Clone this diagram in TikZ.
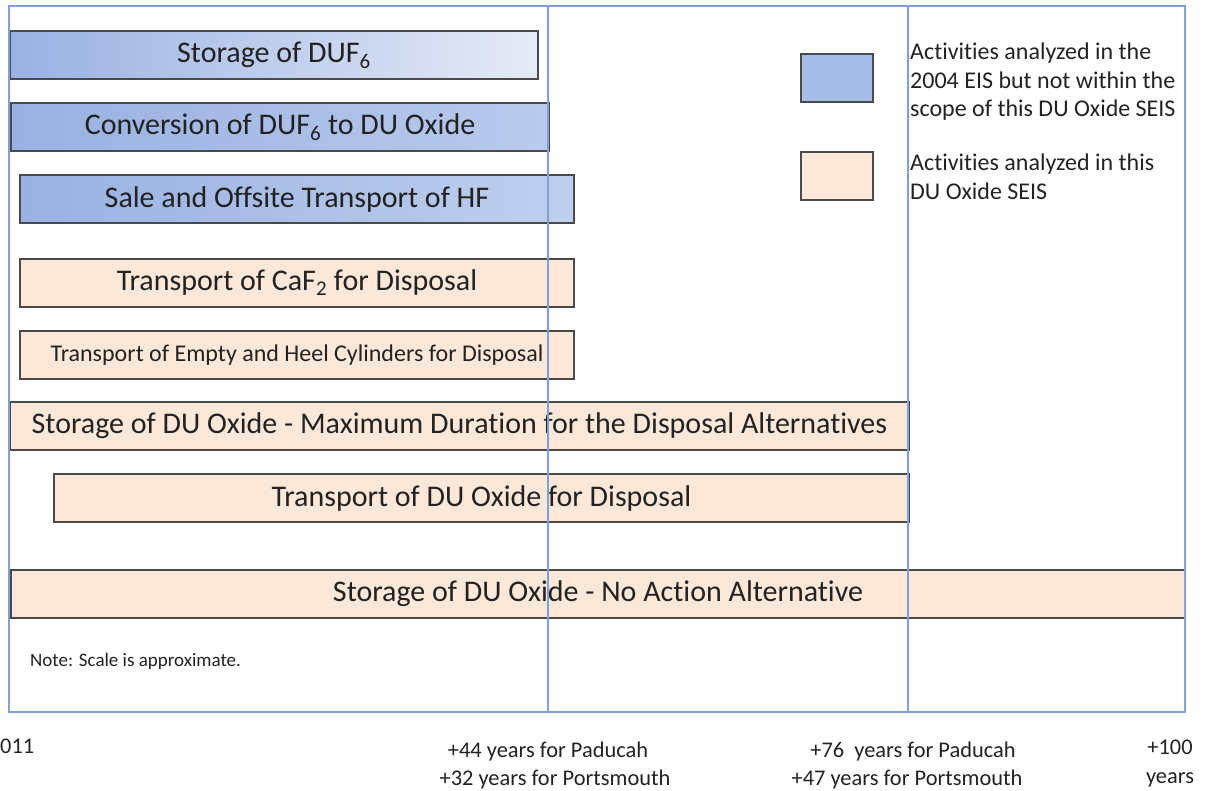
\documentclass[tikz,border=0pt]{standalone}
\usepackage{fontspec}
\setmainfont{Carlito}[Ligatures=CommonOff]
\definecolor{frameblue}{HTML}{7FA0D8}
\definecolor{barline}{HTML}{4A4A4A}
\definecolor{beige}{HTML}{FCE8D8}
\definecolor{legblue}{HTML}{A6BEE7}
\definecolor{blueL}{HTML}{98B1E2}
\definecolor{blueR1}{HTML}{E6EBF7}
\definecolor{blueR2}{HTML}{B9CAEC}
\definecolor{blueR3}{HTML}{BFCFEE}
\definecolor{ink}{HTML}{222222}
\tikzset{
  bar/.style={draw=barline, line width=2pt, inner sep=0pt, anchor=north west, minimum height=48pt, text=ink},
  big/.style={font=\fontsize{30}{34}\selectfont},
  small/.style={font=\fontsize{24}{28}\selectfont},
  beigebar/.style={bar, fill=beige},
  legtext/.style={anchor=north west, align=left, inner sep=0pt, font=\fontsize{24}{28.5}\selectfont, text=ink},
  axis/.style={anchor=base, align=center, font=\fontsize{22.4}{28}\selectfont, text=ink},
  gridline/.style={draw=frameblue, line width=1.3pt}
}
\begin{document}
\begin{tikzpicture}[x=1pt,y=-1pt]
\useasboundingbox (0,0) rectangle (1217,790);
% bars
\node[bar, big, left color=blueL, right color=blueR1, minimum width=528pt] (s1) at (9,30) {Storage of DUF\textsubscript{6}};
\node[bar, big, left color=blueL, right color=blueR2, minimum width=538pt] (s2) at (10,102) {Conversion of DUF\textsubscript{6} to DU Oxide};
\node[bar, big, left color=blueL, right color=blueR3, minimum width=554pt] (s3) at (19,174) {Sale and Offsite Transport of HF};
\node[beigebar, big, minimum width=554pt] (s4) at (19,258) {Transport of CaF\textsubscript{2} for Disposal};
\node[beigebar, small, minimum width=554pt] (s5) at (19,330) {Transport of Empty and Heel Cylinders for Disposal};
\node[beigebar, big, minimum width=899pt] (s6) at (9,401) {Storage of DU Oxide - Maximum Duration for the Disposal Alternatives};
\node[beigebar, big, minimum width=855pt] (s7) at (53,473) {Transport of DU Oxide for Disposal};
\node[beigebar, big, minimum width=1174pt] (s8) at (10,569) {Storage of DU Oxide - No Action Alternative};
% legend
\node[draw=barline, line width=2pt, fill=legblue, minimum width=72pt, minimum height=48pt, inner sep=0pt, anchor=north west] (lb) at (800,53) {};
\node[draw=barline, line width=2pt, fill=beige, minimum width=72pt, minimum height=48pt, inner sep=0pt, anchor=north west] (lo) at (800,151) {};
\node[legtext] (lbt) at (910,43) {Activities analyzed in the\\2004 EIS but not within the\\scope of this DU Oxide SEIS};
\node[legtext] (lot) at (910,154) {Activities analyzed in this\\DU Oxide SEIS};
% note
\node[anchor=west, inner sep=0pt, font=\fontsize{19}{22}\selectfont, text=ink] (note) at (30,661) {Note: Scale is approximate.};
% frame and grid lines
\coordinate (ftl) at (9,6);
\coordinate (fbr) at (1185,712);
\draw[gridline] (ftl) rectangle (fbr);
\coordinate (g1t) at (548,6);
\coordinate (g1b) at (548,712);
\coordinate (g2t) at (908,6);
\coordinate (g2b) at (908,712);
\draw[gridline] (g1t) -- (g1b);
\draw[gridline] (g2t) -- (g2b);
% axis labels
\node[anchor=base west, inner sep=0pt, font=\fontsize{22.4}{28}\selectfont, text=ink] (y0) at (0,753) {011};
\node[axis] (y1a) at (548,757) {+44 years for Paducah};
\node[axis] (y1b) at (555,785) {+32 years for Portsmouth};
\node[axis] (y2a) at (913,757) {+76\ \ years for Paducah};
\node[axis] (y2b) at (907,785) {+47 years for Portsmouth};
\node[axis] (y3a) at (1170,754) {+100};
\node[axis] (y3b) at (1170,783) {years};
\end{tikzpicture}
\end{document}
